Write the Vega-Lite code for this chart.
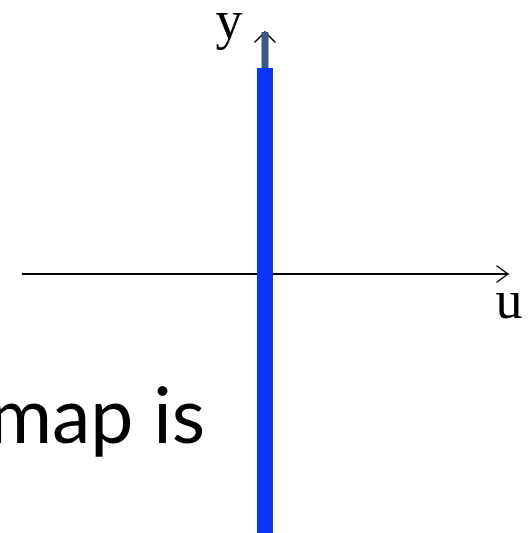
{
  "$schema": "https://vega.github.io/schema/vega-lite/v6.json",
  "width": 529,
  "height": 533,
  "padding": 0,
  "autosize": {"type": "none"},
  "background": "white",
  "config": {"view": {"stroke": null}},
  "datasets": {
    "segs": [
      {"part": "uaxis", "x": -243, "y": 0, "x2": 242, "y2": 0},
      {"part": "uarrow", "x": 232, "y": 8, "x2": 243, "y2": 0},
      {"part": "uarrow", "x": 232, "y": -8, "x2": 243, "y2": 0},
      {"part": "yaxis", "x": 0, "y": 206, "x2": 0, "y2": 242},
      {"part": "yarrow", "x": -10, "y": 232, "x2": 0, "y2": 242},
      {"part": "yarrow", "x": 10, "y": 232, "x2": 0, "y2": 242},
      {"part": "image", "x": 0, "y": -259, "x2": 0, "y2": 206}
    ],
    "labels": [
      {"part": "axislabel", "label": "y", "x": -36, "y": 236},
      {"part": "axislabel", "label": "u", "x": 244, "y": -44},
      {"part": "caption", "label": "map is", "x": -60, "y": -169}
    ]
  },
  "layer": [
    {
      "data": {"name": "segs"},
      "transform": [{"filter": "datum.part === 'uaxis'"}],
      "mark": {"type": "rule", "color": "black", "strokeWidth": 2},
      "encoding": {
        "x": {"field": "x", "type": "quantitative", "scale": {"domain": [-265, 264], "nice": false, "zero": false}, "axis": null},
        "y": {"field": "y", "type": "quantitative", "scale": {"domain": [-259, 274], "nice": false, "zero": false}, "axis": null},
        "x2": {"field": "x2"},
        "y2": {"field": "y2"}
      }
    },
    {
      "data": {"name": "segs"},
      "transform": [{"filter": "datum.part === 'uarrow' || datum.part === 'yarrow'"}],
      "mark": {"type": "rule", "color": "black", "strokeWidth": 1.5, "strokeCap": "round"},
      "encoding": {
        "x": {"field": "x", "type": "quantitative", "scale": {"domain": [-265, 264], "nice": false, "zero": false}, "axis": null},
        "y": {"field": "y", "type": "quantitative", "scale": {"domain": [-259, 274], "nice": false, "zero": false}, "axis": null},
        "x2": {"field": "x2"},
        "y2": {"field": "y2"}
      }
    },
    {
      "data": {"name": "segs"},
      "transform": [{"filter": "datum.part === 'yaxis'"}],
      "mark": {"type": "rule", "color": "#3d5a84", "strokeWidth": 7, "strokeCap": "butt"},
      "encoding": {
        "x": {"field": "x", "type": "quantitative", "scale": {"domain": [-265, 264], "nice": false, "zero": false}, "axis": null},
        "y": {"field": "y", "type": "quantitative", "scale": {"domain": [-259, 274], "nice": false, "zero": false}, "axis": null},
        "x2": {"field": "x2"},
        "y2": {"field": "y2"}
      }
    },
    {
      "data": {"name": "segs"},
      "transform": [{"filter": "datum.part === 'image'"}],
      "mark": {"type": "rule", "color": "#0b35fb", "strokeWidth": 16, "strokeCap": "butt"},
      "encoding": {
        "x": {"field": "x", "type": "quantitative", "scale": {"domain": [-265, 264], "nice": false, "zero": false}, "axis": null},
        "y": {"field": "y", "type": "quantitative", "scale": {"domain": [-259, 274], "nice": false, "zero": false}, "axis": null},
        "x2": {"field": "x2"},
        "y2": {"field": "y2"}
      }
    },
    {
      "data": {"name": "labels"},
      "transform": [{"filter": "datum.part === 'axislabel'"}],
      "mark": {"type": "text", "font": "Liberation Serif", "fontSize": 54, "align": "center", "baseline": "alphabetic", "color": "black"},
      "encoding": {
        "x": {"field": "x", "type": "quantitative", "scale": {"domain": [-265, 264], "nice": false, "zero": false}, "axis": null},
        "y": {"field": "y", "type": "quantitative", "scale": {"domain": [-259, 274], "nice": false, "zero": false}, "axis": null},
        "text": {"field": "label"}
      }
    },
    {
      "data": {"name": "labels"},
      "transform": [{"filter": "datum.part === 'caption'"}],
      "mark": {"type": "text", "font": "Lato", "fontSize": 77, "align": "right", "baseline": "alphabetic", "color": "black"},
      "encoding": {
        "x": {"field": "x", "type": "quantitative", "scale": {"domain": [-265, 264], "nice": false, "zero": false}, "axis": null},
        "y": {"field": "y", "type": "quantitative", "scale": {"domain": [-259, 274], "nice": false, "zero": false}, "axis": null},
        "text": {"field": "label"}
      }
    }
  ]
}
